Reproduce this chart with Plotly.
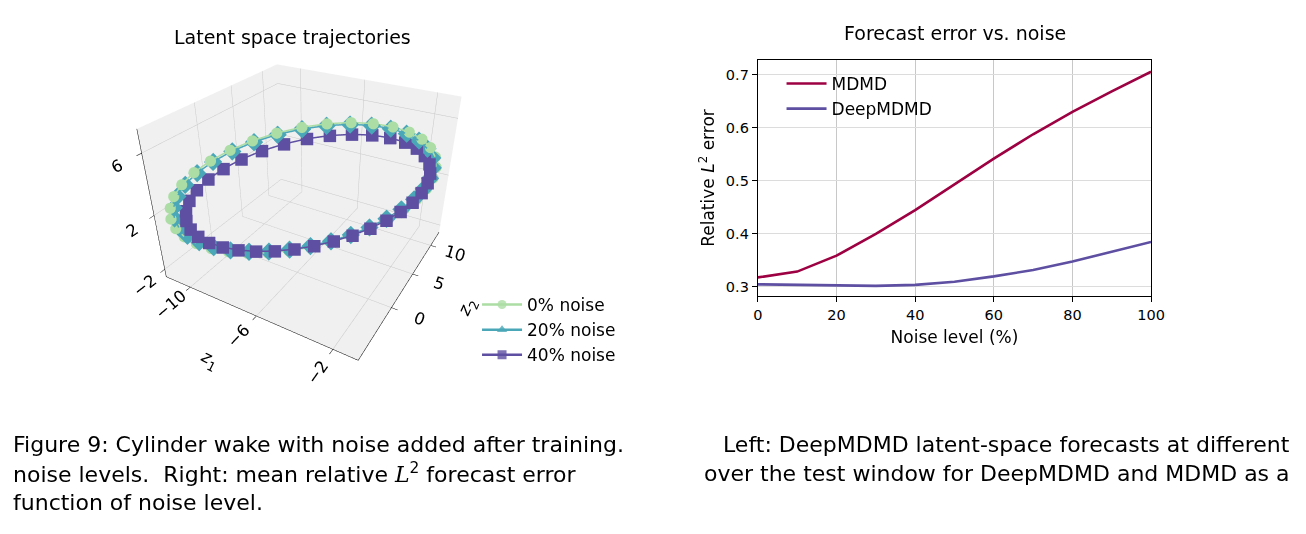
import plotly.graph_objects as go

# ---------------- data: right panel ----------------
noise_level = [0, 10, 20, 30, 40, 50, 60, 70, 80, 90, 100]
err_mdmd = [0.318, 0.329, 0.359, 0.400, 0.445, 0.493, 0.542, 0.588, 0.630, 0.669, 0.706]
err_deep = [0.305, 0.304, 0.303, 0.302, 0.304, 0.310, 0.320, 0.332, 0.348, 0.366, 0.385]
x_ticks = [0, 20, 40, 60, 80, 100]
y_ticks = [0.3, 0.4, 0.5, 0.6, 0.7]

# ---------------- data: left panel (latent trajectories) ----------------
z1_n0 = [-1.20, -1.13, -1.21, -1.45, -1.82, -2.33, -2.96, -3.69, -4.49, -5.35, -6.23, -7.11, -7.96,
         -8.76, -9.48, -10.11, -10.61, -10.98, -11.20, -11.27, -11.19, -10.96, -10.58, -10.07, -9.44,
         -8.71, -7.91, -7.05, -6.17, -5.29, -4.44, -3.64, -2.92, -2.30, -1.79, -1.42, -1.20]
z2_n0 = [9.80, 9.82, 9.60, 9.17, 8.52, 7.69, 6.69, 5.56, 4.33, 3.04, 1.72, 0.43, -0.81, -1.95,
         -2.97, -3.83, -4.50, -4.96, -5.20, -5.22, -5.00, -4.57, -3.92, -3.09, -2.09, -0.96, 0.27,
         1.56, 2.88, 4.17, 5.41, 6.55, 7.57, 8.43, 9.10, 9.56, 9.80]
z3_n0 = [2.60, 3.38, 4.13, 4.82, 5.45, 5.98, 6.40, 6.70, 6.87, 6.90, 6.80, 6.56, 6.20, 5.72, 5.14,
         4.48, 3.75, 2.99, 2.20, 1.42, 0.67, -0.02, -0.65, -1.18, -1.60, -1.90, -2.07, -2.10, -2.00,
         -1.76, -1.40, -0.92, -0.34, 0.32, 1.05, 1.81, 2.60]

z1_n20 = [-1.33, -1.26, -1.33, -1.57, -1.93, -2.43, -3.04, -3.75, -4.53, -5.37, -6.23, -7.09, -7.92,
          -8.70, -9.40, -10.01, -10.50, -10.86, -11.08, -11.14, -11.07, -10.84, -10.47, -9.97, -9.36,
          -8.65, -7.87, -7.03, -6.17, -5.31, -4.48, -3.70, -3.00, -2.40, -1.90, -1.54, -1.33]
z2_n20 = [9.61, 9.63, 9.42, 9.00, 8.36, 7.56, 6.58, 5.48, 4.28, 3.02, 1.73, 0.48, -0.73, -1.84,
          -2.84, -3.68, -4.33, -4.78, -5.01, -5.03, -4.82, -4.40, -3.76, -2.96, -1.98, -0.88, 0.32,
          1.58, 2.87, 4.12, 5.33, 6.44, 7.44, 8.28, 8.93, 9.38, 9.61]
z3_n20 = [2.60, 3.36, 4.09, 4.76, 5.37, 5.89, 6.30, 6.59, 6.76, 6.79, 6.69, 6.46, 6.11, 5.64, 5.07,
          4.43, 3.72, 2.98, 2.21, 1.44, 0.71, 0.04, -0.57, -1.09, -1.50, -1.79, -1.96, -1.99, -1.89,
          -1.66, -1.31, -0.84, -0.27, 0.37, 1.08, 1.83, 2.60]

z1_n40 = [-1.35, -1.29, -1.36, -1.58, -1.92, -2.39, -2.97, -3.64, -4.38, -5.17, -5.98, -6.79, -7.57,
          -8.31, -8.97, -9.55, -10.01, -10.35, -10.55, -10.61, -10.54, -10.33, -9.98, -9.51, -8.93,
          -8.26, -7.52, -6.73, -5.92, -5.11, -4.33, -3.59, -2.93, -2.36, -1.89, -1.55, -1.35]
z2_n40 = [9.20, 9.22, 9.02, 8.62, 8.02, 7.26, 6.34, 5.30, 4.17, 2.98, 1.77, 0.58, -0.56, -1.61,
          -2.55, -3.34, -3.96, -4.38, -4.60, -4.62, -4.42, -4.02, -3.42, -2.66, -1.74, -0.70, 0.43,
          1.62, 2.83, 4.02, 5.16, 6.21, 7.15, 7.94, 8.56, 8.98, 9.20]
z3_n40 = [2.38, 3.08, 3.76, 4.38, 4.95, 5.42, 5.80, 6.07, 6.22, 6.25, 6.16, 5.94, 5.62, 5.19, 4.67,
          4.07, 3.42, 2.73, 2.02, 1.32, 0.64, 0.02, -0.55, -1.02, -1.40, -1.67, -1.82, -1.85, -1.76,
          -1.54, -1.22, -0.79, -0.27, 0.33, 0.98, 1.67, 2.38]

z1_ticks = [-10, -6, -2]
z2_ticks = [0, 5, 10]
z3_ticks = [-2, 2, 6]

series_names = ["0% noise", "20% noise", "40% noise"]

# ---------------- styling ----------------
FONT = "DejaVu Sans"
C_MDMD = "#9e0142"
C_DEEP = "#5e4fa2"
C_N0 = "#abdda4"
C_N20 = "#4aa7b7"
C_N40 = "#5e4fa2"

fig = go.Figure()

# 3D trajectories
fig.add_trace(go.Scatter3d(
    x=z1_n0, y=z2_n0, z=z3_n0, mode="lines+markers", name=series_names[0],
    line=dict(color=C_N0, width=3), marker=dict(color=C_N0, size=6.5, symbol="circle"),
    showlegend=False, scene="scene"))
fig.add_trace(go.Scatter3d(
    x=z1_n20, y=z2_n20, z=z3_n20, mode="lines+markers", name=series_names[1],
    line=dict(color=C_N20, width=3), marker=dict(color=C_N20, size=6, symbol="diamond"),
    showlegend=False, scene="scene"))
fig.add_trace(go.Scatter3d(
    x=z1_n40, y=z2_n40, z=z3_n40, mode="lines+markers", name=series_names[2],
    line=dict(color=C_N40, width=3), marker=dict(color=C_N40, size=6.5, symbol="square"),
    showlegend=False, scene="scene"))

# legend entries for the 3D panel
for nm, col, sym in zip(series_names, [C_N0, C_N20, C_N40], ["circle", "triangle-up", "square"]):
    fig.add_trace(go.Scatter(
        x=[None], y=[None], mode="lines+markers", name=nm,
        line=dict(color=col, width=2.5), marker=dict(color=col, size=9, symbol=sym, opacity=0.8),
        legend="legend2", xaxis="x", yaxis="y"))

# 2D error curves
fig.add_trace(go.Scatter(x=noise_level, y=err_mdmd, mode="lines", name="MDMD",
                         line=dict(color=C_MDMD, width=2.6), legend="legend"))
fig.add_trace(go.Scatter(x=noise_level, y=err_deep, mode="lines", name="DeepMDMD",
                         line=dict(color=C_DEEP, width=2.6), legend="legend"))

W, H = 1306, 534

scene_axis = dict(
    backgroundcolor="rgb(240,240,240)", showbackground=True,
    gridcolor="rgb(200,200,200)", gridwidth=1,
    showline=True, linecolor="black", linewidth=1,
    ticks="outside", tickcolor="black", ticklen=5,
    zeroline=False, showspikes=False,
    tickfont=dict(family=FONT, size=14, color="black"),
)

fig.update_layout(
    width=W, height=H,
    margin=dict(l=0, r=0, t=0, b=0),
    paper_bgcolor="white", plot_bgcolor="white",
    font=dict(family=FONT, color="black"),
    scene=dict(
        domain=dict(x=[0.078, 0.398], y=[0.22, 1.0]),
        xaxis=dict(scene_axis, range=[-11.6, -0.8], tickvals=z1_ticks,
                   title=dict(text="<i>z</i><sub>1</sub>", font=dict(family=FONT, size=17))),
        yaxis=dict(scene_axis, range=[-6.4, 12.6], tickvals=z2_ticks,
                   title=dict(text="<i>z</i><sub>2</sub>", font=dict(family=FONT, size=17))),
        zaxis=dict(scene_axis, range=[-2.6, 7.4], tickvals=z3_ticks,
                   title=dict(text="<i>z</i><sub>3</sub>", font=dict(family=FONT, size=17))),
        aspectmode="manual", aspectratio=dict(x=1, y=1, z=0.75),
        camera=dict(eye=dict(x=1.009, y=-1.748, z=1.166), up=dict(x=0, y=0, z=1),
                    center=dict(x=0, y=0, z=-0.11),
                    projection=dict(type="perspective")),
        bgcolor="rgba(0,0,0,0)",
    ),
    xaxis=dict(
        domain=[764 / W, 1163 / W], range=[0, 100], tickvals=x_ticks,
        showgrid=True, gridcolor="#c8c8c8", gridwidth=1,
        showline=True, linecolor="black", linewidth=1.2, mirror=True,
        ticks="outside", ticklen=5, tickcolor="black", zeroline=False,
        tickfont=dict(family=FONT, size=14.5),
        title=dict(text="Noise level (%)", font=dict(family=FONT, size=17), standoff=9),
        anchor="y",
    ),
    yaxis=dict(
        domain=[1 - 296 / H, 1 - 60 / H], range=[0.283, 0.728], tickvals=y_ticks,
        tickformat=".1f",
        showgrid=True, gridcolor="#dcdcdc", gridwidth=1,
        showline=True, linecolor="black", linewidth=1.2, mirror=True,
        ticks="outside", ticklen=5, tickcolor="black", zeroline=False,
        tickfont=dict(family=FONT, size=14.5),
        title=dict(text="Relative <i>L</i><sup>2</sup> error", font=dict(family=FONT, size=17),
                   standoff=6),
        anchor="x",
    ),
    legend=dict(x=788 / W, y=1 - 66 / H, xanchor="left", yanchor="top",
                bgcolor="rgba(0,0,0,0)", font=dict(family=FONT, size=17),
                itemwidth=40, tracegroupgap=0),
    legend2=dict(x=479 / W, y=1 - 287 / H, xanchor="left", yanchor="top",
                 bgcolor="rgba(0,0,0,0)", font=dict(family=FONT, size=17),
                 itemwidth=40, tracegroupgap=0),
)

ann = []
ann.append(dict(text="Latent space trajectories", x=292 / W, y=1 - 37 / H, xref="paper", yref="paper",
                showarrow=False, xanchor="center", yanchor="middle",
                font=dict(family=FONT, size=19, color="black")))
ann.append(dict(text="Forecast error vs. noise", x=964 / W, y=1 - 33 / H, xref="paper", yref="paper",
                showarrow=False, xanchor="center", yanchor="middle",
                font=dict(family=FONT, size=19, color="black")))

cap_font = dict(family=FONT, size=22, color="black")
L2 = "<span style=\"font-family:'DejaVu Serif'\"><i>L</i></span><sup>2</sup>"
caption_chunks = [
    ("Figure 9: Cylinder wake with noise added after training.", 6, 444, "left"),
    ("Left: DeepMDMD latent-space forecasts at different", 1306, 444, "right"),
    ("noise levels.  Right: mean relative " + L2 + " forecast error", 6, 473, "left"),
    ("over the test window for DeepMDMD and MDMD as a", 1306, 473, "right"),
    ("function of noise level.", 6, 502, "left"),
]
for txt, px, py, anc in caption_chunks:
    ann.append(dict(text=txt, x=px / W, y=1 - py / H, xref="paper", yref="paper",
                    showarrow=False, xanchor=anc, yanchor="middle", font=cap_font))

fig.update_layout(annotations=ann)

fig.write_html("out.html")
